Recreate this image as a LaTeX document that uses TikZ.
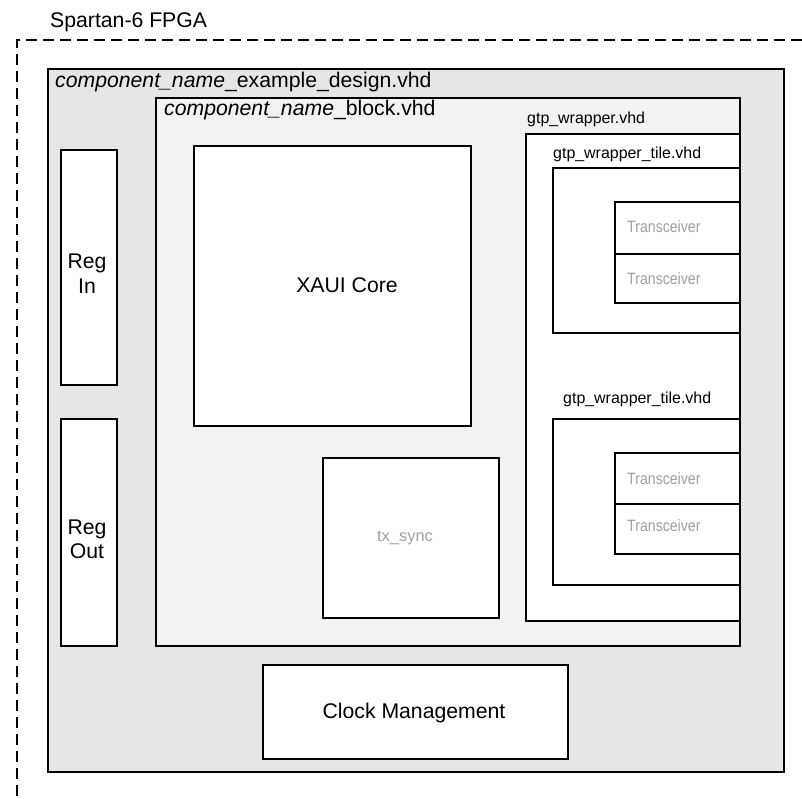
\documentclass[tikz,border=0pt]{standalone}
\usepackage{fontspec}
\usepackage{graphicx}
\setmainfont{Liberation Sans}
\definecolor{outerfill}{HTML}{E6E6E6}
\definecolor{blockfill}{HTML}{F2F2F2}
\definecolor{ghost}{HTML}{A0A0A0}
\newcommand{\narrowtxt}[1]{\scalebox{0.86}[1]{#1}}
\begin{document}
\begin{tikzpicture}[x=1bp,y=-1bp,
  box/.style={draw=black,line width=2.2bp,fill=white,inner sep=0pt,anchor=north west},
  bigtext/.style={font=\fontsize{21.3}{25}\selectfont,inner sep=0pt},
  small/.style={font=\fontsize{16}{19}\selectfont,inner sep=0pt,anchor=base west},
  ghosttext/.style={font=\fontsize{16.5}{19}\selectfont,text=ghost,inner sep=0pt},
  fpga/.style={draw=black,line width=2bp,dash pattern=on 11bp off 6bp}]
\useasboundingbox (0,0) rectangle (802,799);
% FPGA boundary
\coordinate (tl) at (17,40);
\coordinate (tr) at (802,40);
\coordinate (bl) at (17,799);
\draw[fpga] (tr) -- (tl) -- (bl);
\node[bigtext,anchor=base west] (fpgalbl) at (50,28) {Spartan-6 FPGA};
% example design
\node[box,fill=outerfill,minimum width=736bp,minimum height=703bp] (ex) at (47,68) {};
\node[bigtext,anchor=base west] (exlbl) at (55,87) {\textit{component\_name}\_example\_design.vhd};
% block
\node[box,fill=blockfill,minimum width=584bp,minimum height=548bp] (blk) at (155,97) {};
\node[bigtext,anchor=base west] (blklbl) at (164,115) {\textit{component\_name}\_block.vhd};
% XAUI core
\node[box,minimum width=277bp,minimum height=280bp] (xaui) at (193,145) {};
\node[bigtext,anchor=base] (xauilbl) at (347,292) {XAUI Core};
% tx_sync
\node[box,minimum width=176bp,minimum height=160bp] (txs) at (322,457) {};
\node[ghosttext] (txslbl) at (405,538) {tx\_sync};
% gtp wrapper
\node[small] (gtplbl) at (527,123) {gtp\_wrapper.vhd};
\node[box,minimum width=214bp,minimum height=487bp] (gtp) at (525,133) {};
% tile 1
\node[small] (t1lbl) at (553,158) {gtp\_wrapper\_tile.vhd};
\node[box,minimum width=187bp,minimum height=165bp] (t1) at (552,167) {};
\node[box,minimum width=125bp,minimum height=52bp] (tr1) at (614,201) {};
\node[box,minimum width=125bp,minimum height=49bp] (tr2) at (614,253) {};
\node[ghosttext,anchor=base west] (tr1lbl) at (627,232) {\narrowtxt{Transceiver}};
\node[ghosttext,anchor=base west] (tr2lbl) at (627,284) {\narrowtxt{Transceiver}};
% tile 2
\node[small] (t2lbl) at (563,403) {gtp\_wrapper\_tile.vhd};
\node[box,minimum width=187bp,minimum height=166bp] (t2) at (552,418) {};
\node[box,minimum width=125bp,minimum height=51bp] (tr3) at (614,452) {};
\node[box,minimum width=125bp,minimum height=50bp] (tr4) at (614,503) {};
\node[ghosttext,anchor=base west] (tr3lbl) at (627,484) {\narrowtxt{Transceiver}};
\node[ghosttext,anchor=base west] (tr4lbl) at (627,531) {\narrowtxt{Transceiver}};
% reg in / out
\node[box,minimum width=56bp,minimum height=235bp] (regin) at (60,149) {};
\node[bigtext,anchor=base] (regina) at (87,268) {Reg};
\node[bigtext,anchor=base] (reginb) at (87,293) {In};
\node[box,minimum width=56bp,minimum height=227bp] (regout) at (60,418) {};
\node[bigtext,anchor=base] (regouta) at (87,534) {Reg};
\node[bigtext,anchor=base] (regoutb) at (87,558) {Out};
% clock management
\node[box,minimum width=305bp,minimum height=94bp] (clk) at (262,664) {};
\node[bigtext,anchor=base] (clklbl) at (414,718) {Clock Management};
\end{tikzpicture}
\end{document}
